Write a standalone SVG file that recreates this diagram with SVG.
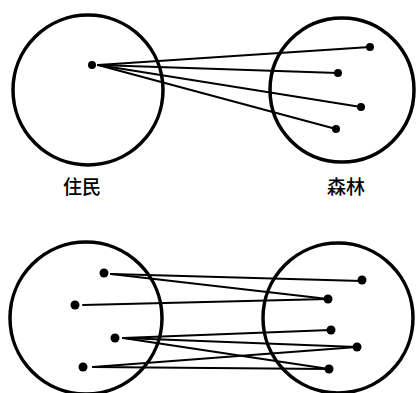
<svg xmlns="http://www.w3.org/2000/svg" width="416" height="393" viewBox="0 0 416 393">
<style>
.set{fill:none;stroke:#000;stroke-width:3.5}
.dot{fill:#000}
.ln{stroke:#000;stroke-width:2;fill:none;stroke-linecap:round}
.lbl{font-family:"Noto Sans CJK SC","Noto Sans CJK JP",sans-serif;font-size:19px;font-weight:500;fill:#000;text-anchor:middle}
</style>
<rect width="416" height="393" fill="#fff"/>
<g id="connectors">
<line class="ln" x1="98" y1="65" x2="370" y2="47"/>
<line class="ln" x1="98" y1="65" x2="338" y2="73"/>
<line class="ln" x1="98" y1="65" x2="361" y2="107"/>
<line class="ln" x1="98" y1="65" x2="336" y2="129"/>
<line class="ln" x1="111" y1="274" x2="362" y2="281"/>
<line class="ln" x1="111" y1="274" x2="328" y2="299"/>
<line class="ln" x1="83" y1="305" x2="328" y2="299"/>
<line class="ln" x1="123" y1="338" x2="331" y2="330"/>
<line class="ln" x1="123" y1="338" x2="357" y2="347"/>
<line class="ln" x1="123" y1="338" x2="329" y2="369"/>
<line class="ln" x1="93" y1="367" x2="357" y2="347"/>
<line class="ln" x1="93" y1="367" x2="329" y2="369"/>
</g>
<g id="residents-top">
<circle class="set" cx="88" cy="90" r="75"/>
<circle class="dot" cx="92" cy="65" r="4"/>
<text class="lbl" x="82" y="194">住民</text>
</g>
<g id="forest-top">
<circle class="set" cx="342" cy="90" r="72"/>
<circle class="dot" cx="370" cy="47" r="4"/>
<circle class="dot" cx="338" cy="73" r="4"/>
<circle class="dot" cx="361" cy="107" r="4"/>
<circle class="dot" cx="336" cy="129" r="4"/>
<text class="lbl" x="346" y="194">森林</text>
</g>
<g id="residents-bottom">
<circle class="set" cx="86" cy="318" r="76"/>
<circle class="dot" cx="104" cy="273" r="4.5"/>
<circle class="dot" cx="75" cy="305" r="4.5"/>
<circle class="dot" cx="115" cy="338" r="4.5"/>
<circle class="dot" cx="83" cy="367" r="4.5"/>
</g>
<g id="forest-bottom">
<circle class="set" cx="338" cy="318" r="75"/>
<circle class="dot" cx="362" cy="280" r="4.5"/>
<circle class="dot" cx="328" cy="299" r="4.5"/>
<circle class="dot" cx="331" cy="330" r="4.5"/>
<circle class="dot" cx="357" cy="347" r="4.5"/>
<circle class="dot" cx="329" cy="369" r="4.5"/>
</g>
</svg>
